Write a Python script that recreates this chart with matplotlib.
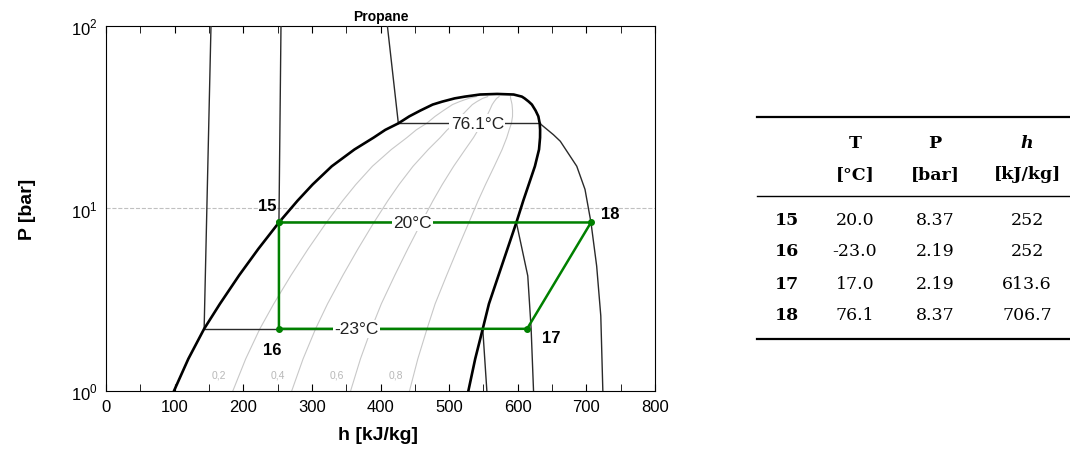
import numpy as np
import matplotlib.pyplot as plt

plt.rcParams['font.family'] = ['Liberation Sans', 'DejaVu Sans']
plt.rcParams['mathtext.fontset'] = 'custom'
plt.rcParams['mathtext.rm'] = 'Liberation Sans'

# saturation dome of propane (P in bar, h in kJ/kg)
p_sat = [1.0, 1.5, 2.19, 3.0, 4.3, 6.0, 8.37, 11.0, 13.5, 17.0, 21.0, 24.4,
         26.9, 29.2, 31.9, 34.3, 37.0, 38.4, 40.0, 40.9]
h_liq = [99, 120, 143, 166, 194, 222, 252, 279, 301, 329, 362, 390,
         407, 426, 442, 458, 476, 490, 508, 523]
h_vap = [528, 538, 549, 558, 572, 585, 598, 608, 616, 625, 631, 632.5,
         632.6, 632, 630, 626, 620.6, 616, 610, 606]
p_top = [42.0, 42.3, 42.0]
h_top = [545, 570, 594]

quality = [0.2, 0.4, 0.6, 0.8]
quality_labels = ['0,2', '0,4', '0,6', '0,8']

# isotherms: liquid branch, two-phase level, vapour branch
iso_names = ['-23°C', '20°C', '76.1°C']
iso_p_level = [2.19, 8.37, 29.2]
iso_label_h = [365, 447, 541]
iso_liq_h = [[153, 143], [255, 252], [410, 426]]
iso_liq_p = [[100, 2.19], [100, 8.37], [100, 29.2]]
iso_vap_h = [[549, 555],
             [598, 614.6, 619.5, 623],
             [632, 652, 662, 686, 698, 706.7, 715, 721, 724]]
iso_vap_p = [[2.19, 1.0],
             [8.37, 4.27, 2.19, 1.0],
             [29.2, 25.3, 23.3, 17.0, 12.7, 8.37, 4.83, 2.58, 1.0]]

# cycle states (table)
states = ['15', '16', '17', '18']
T_state = ['20.0', '-23.0', '17.0', '76.1']
P_state = [8.37, 2.19, 2.19, 8.37]
h_state = [252, 252, 613.6, 706.7]
P_text = ['8.37', '2.19', '2.19', '8.37']
h_text = ['252', '252', '613.6', '706.7']

fig = plt.figure(figsize=(10.7, 4.52), dpi=100)
ax = fig.add_axes([106 / 1070, 60 / 452, 549 / 1070, 365.3 / 452])

# dome
h_dome = h_liq + h_top + h_vap[::-1]
p_dome = p_sat + p_top + p_sat[::-1]
ax.plot(h_dome, p_dome, color='black', lw=1.9, zorder=4)

# quality lines
hl = np.array(h_liq)
hv = np.array(h_vap)
for q, lab in zip(quality, quality_labels):
    hq = hl + q * (hv - hl)
    ax.plot(hq, p_sat, color='#c8c8c8', lw=0.8, zorder=2)
    ax.text(hq[0] - 20, 1.23, lab, color='#b8b8b8', fontsize=7.5,
            ha='center', va='center', zorder=3)

# isotherms
for i in range(len(iso_names)):
    ax.plot(iso_liq_h[i], iso_liq_p[i], color='#2a2a2a', lw=1.0, zorder=3)
    ax.plot(iso_vap_h[i], iso_vap_p[i], color='#2a2a2a', lw=1.0, zorder=3)
    ax.plot([iso_liq_h[i][-1], iso_vap_h[i][0]], [iso_p_level[i]] * 2,
            color='#2a2a2a', lw=1.0, zorder=3)

# cycle
cyc_h = h_state + h_state[:1]
cyc_p = P_state + P_state[:1]
ax.plot(cyc_h, cyc_p, color='#008000', lw=1.8, marker='o', ms=4, zorder=5)

for i in range(len(iso_names)):
    ax.text(iso_label_h[i], iso_p_level[i], iso_names[i], fontsize=12.5,
            color='#222222', ha='center', va='center', zorder=6,
            bbox=dict(facecolor='white', edgecolor='none', pad=1.0))

offsets = [(-12, 17), (-7, -21), (24, -9), (19, 9)]
for s, hh, pp, off in zip(states, h_state, P_state, offsets):
    ax.annotate(s, (hh, pp), xytext=off, textcoords='offset pixels',
                fontsize=12, fontweight='bold', ha='center', va='center',
                zorder=7)

ax.set_xlim(0, 800)
ax.set_yscale('log')
ax.set_ylim(1, 100)
ax.set_yticks([1, 10, 100])
ax.set_yticklabels(['$10^{0}$', '$10^{1}$', '$10^{2}$'])
ax.yaxis.set_minor_locator(plt.NullLocator())
ax.tick_params(axis='y', length=0, labelsize=12, pad=6)
ax.set_xticks(range(0, 801, 100))
ax.set_xticks(range(50, 800, 100), minor=True)
ax.tick_params(axis='x', which='both', direction='in', top=True, length=5,
               labelsize=12, pad=6)
ax.axhline(10, color='#c0c0c0', lw=0.8, ls='--', zorder=1)

ax.set_title('Propane', fontsize=10, fontweight='bold', pad=4)
ax.set_xlabel('h [kJ/kg]', fontsize=14, fontweight='bold')
ax.set_ylabel('P [bar]', fontsize=14, fontweight='bold')
ax.xaxis.set_label_coords(0.495, -0.095)
ax.yaxis.set_label_coords(-0.128, 0.5)

# table on the right
tab = fig.add_axes([740 / 1070, 0, 330 / 1070, 1])
tab.set_xlim(740, 1070)
tab.set_ylim(452, 0)
tab.axis('off')

serif = 'DejaVu Serif'
col_x = [787, 855, 935, 1027]
tab.plot([757, 1070], [118, 118], color='black', lw=1.6)
tab.plot([757, 1070], [197, 197], color='black', lw=1.0)
tab.plot([757, 1070], [340, 340], color='black', lw=1.6)

tab.text(col_x[1], 144, 'T', family=serif, fontweight='bold', fontsize=12.5,
         ha='center', va='center')
tab.text(col_x[2], 144, 'P', family=serif, fontweight='bold', fontsize=12.5,
         ha='center', va='center')
tab.text(col_x[3], 144, 'h', family=serif, fontweight='bold', style='italic',
         fontsize=12.5, ha='center', va='center')
for x, u in zip(col_x[1:], ['[°C]', '[bar]', '[kJ/kg]']):
    tab.text(x, 175, u, family=serif, fontweight='bold', fontsize=12.5,
             ha='center', va='center')

row_y = [221, 252, 285, 316]
for i in range(len(states)):
    y = row_y[i]
    tab.text(col_x[0], y, states[i], family=serif, fontweight='bold',
             fontsize=12.5, ha='center', va='center')
    tab.text(col_x[1], y, T_state[i], family=serif, fontsize=12.5,
             ha='center', va='center')
    tab.text(col_x[2], y, P_text[i], family=serif, fontsize=12.5,
             ha='center', va='center')
    tab.text(col_x[3], y, h_text[i], family=serif, fontsize=12.5,
             ha='center', va='center')

fig.savefig('out.png', dpi=100)
